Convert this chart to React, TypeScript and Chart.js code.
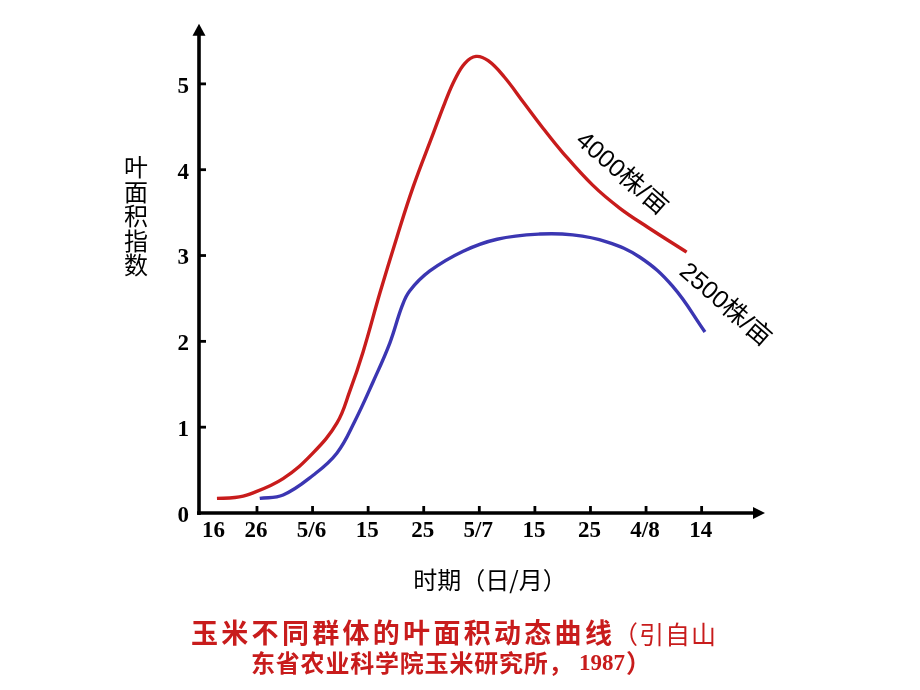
import React, { useEffect, useRef } from "react";
import { Chart, registerables } from "chart.js";

Chart.register(...registerables);

// x values: days counted from 16 May (tick every 10 days)
const xTickDays = [0, 10, 20, 30, 40, 50, 60, 70, 80, 90];
const xTickLabels = ["16", "26", "5/6", "15", "25", "5/7", "15", "25", "4/8", "14"];
const yTicks = [0, 1, 2, 3, 4, 5];

// 4000株/亩
const redDays = [2.8, 6.0, 8.7, 14.7, 20.1, 24.4, 26.7, 29.1, 32.1, 35.2, 38.1, 41.7, 43.8, 45.6, 47.4, 49.4, 51.6, 54.5, 58.0, 61.5, 65.0, 70.4, 75.3, 80.3, 87.3];
const redLAI = [0.17, 0.18, 0.22, 0.40, 0.70, 1.05, 1.42, 1.88, 2.56, 3.22, 3.80, 4.42, 4.78, 5.05, 5.24, 5.32, 5.27, 5.08, 4.78, 4.48, 4.20, 3.82, 3.55, 3.33, 3.04];

// 2500株/亩
const blueDays = [10.5, 14.7, 20.1, 24.4, 27.6, 30.9, 33.9, 36.1, 37.5, 41.1, 47.1, 53.2, 60.9, 66.8, 72.9, 78.9, 84.8, 90.6];
const blueLAI = [0.17, 0.21, 0.44, 0.70, 1.07, 1.53, 1.98, 2.41, 2.59, 2.82, 3.05, 3.19, 3.25, 3.24, 3.16, 2.98, 2.64, 2.11];

const seriesNames = ["4000株/亩", "2500株/亩"];
// label anchors in data units (day, LAI)
const labelDays = [75.6, 94.2];
const labelLAI = [3.95, 2.42];

const yTitle = "叶面积指数";
const xTitle = "时期（日/月）";
const captionA = "玉米不同群体的叶面积动态曲线";
const captionB = "（引自山";
const captionC = "东省农业科学院玉米研究所，";
const captionYear = "1987";
const captionEnd = "）";

const RED = "#c81c1c";
const BLUE = "#3b36b2";
const CJK = "'Noto Sans CJK SC', 'Noto Sans', sans-serif";

function drawRun(ctx: CanvasRenderingContext2D, text: string, x: number, y: number, adv: number) {
  const chars = Array.from(text);
  chars.forEach((c, i) => ctx.fillText(c, x + i * adv, y));
}

const decorPlugin = {
  id: "decor",
  afterDraw(chart: any) {
    const ctx: CanvasRenderingContext2D = chart.ctx;
    const xs = chart.scales.x;
    const ys = chart.scales.y;
    const ax = chart.chartArea.left;
    const ay = ys.getPixelForValue(0);
    const topY = chart.chartArea.top;
    const rightX = chart.chartArea.right;
    ctx.save();
    ctx.strokeStyle = "#000";
    ctx.fillStyle = "#000";
    ctx.lineWidth = 3.6;
    ctx.lineCap = "butt";
    // y axis
    ctx.beginPath();
    ctx.moveTo(ax, ay + 2);
    ctx.lineTo(ax, topY + 8);
    ctx.stroke();
    // x axis
    ctx.beginPath();
    ctx.moveTo(ax - 2, ay);
    ctx.lineTo(rightX - 8, ay);
    ctx.stroke();
    // arrows
    ctx.beginPath();
    ctx.moveTo(ax, topY);
    ctx.lineTo(ax - 6.5, topY + 12);
    ctx.lineTo(ax + 6.5, topY + 12);
    ctx.closePath();
    ctx.fill();
    ctx.beginPath();
    ctx.moveTo(rightX, ay);
    ctx.lineTo(rightX - 12, ay - 6);
    ctx.lineTo(rightX - 12, ay + 6);
    ctx.closePath();
    ctx.fill();
    // tick marks (inward)
    ctx.lineWidth = 2.8;
    yTicks.forEach((v) => {
      if (v === 0) return;
      const py = ys.getPixelForValue(v);
      ctx.beginPath();
      ctx.moveTo(ax, py);
      ctx.lineTo(ax + 7, py);
      ctx.stroke();
    });
    xTickDays.forEach((v, i) => {
      if (i === 0) return;
      const px = xs.getPixelForValue(v);
      ctx.beginPath();
      ctx.moveTo(px, ay);
      ctx.lineTo(px, ay - 7);
      ctx.stroke();
    });
    // x tick labels
    ctx.font = "bold 23px 'Liberation Serif', serif";
    ctx.textAlign = "center";
    ctx.textBaseline = "middle";
    xTickDays.forEach((v, i) => {
      const px = xs.getPixelForValue(v) + (i === 0 ? 12 : -1);
      ctx.fillText(xTickLabels[i], px, ay + 18);
    });
    // y title (vertical stacked)
    ctx.font = "24px " + CJK;
    Array.from(yTitle).forEach((c, i) => {
      ctx.fillText(c, 136, 167 + i * 24.5);
    });
    // x title
    ctx.font = "24px " + CJK;
    ctx.fillText(xTitle, 490, 580);
    // series labels along the curves
    ctx.font = "25px 'Liberation Sans', " + CJK;
    seriesNames.forEach((name, i) => {
      const px = xs.getPixelForValue(labelDays[i]);
      const py = ys.getPixelForValue(labelLAI[i]);
      ctx.save();
      ctx.translate(px, py);
      ctx.rotate((41 * Math.PI) / 180);
      ctx.fillText(name, 0, 0);
      ctx.restore();
    });
    // caption
    ctx.fillStyle = RED;
    ctx.textAlign = "left";
    ctx.font = "bold 27px " + CJK;
    drawRun(ctx, captionA, 191, 633, 30.3);
    ctx.font = "25px " + CJK;
    drawRun(ctx, captionB, 613, 634, 26);
    ctx.font = "bold 24px " + CJK;
    drawRun(ctx, captionC, 251, 663, 24.8);
    ctx.font = "bold 23px 'Liberation Serif', serif";
    ctx.fillText(captionYear, 579, 664);
    ctx.font = "bold 25px " + CJK;
    ctx.fillText(captionEnd, 626, 663);
    ctx.restore();
  },
};

export default function App() {
  const canvasRef = useRef<HTMLCanvasElement | null>(null);
  useEffect(() => {
    const canvas = canvasRef.current;
    if (!canvas) return;
    const chart = new Chart(canvas, {
      type: "line",
      data: {
        datasets: [
          {
            label: seriesNames[0],
            data: redDays.map((d, i) => ({ x: d, y: redLAI[i] })),
            borderColor: RED,
            borderWidth: 3.4,
            pointRadius: 0,
            tension: 0.4,
            fill: false,
          },
          {
            label: seriesNames[1],
            data: blueDays.map((d, i) => ({ x: d, y: blueLAI[i] })),
            borderColor: BLUE,
            borderWidth: 3.4,
            pointRadius: 0,
            tension: 0.4,
            fill: false,
          },
        ],
      },
      options: {
        responsive: false,
        animation: false,
        devicePixelRatio: 1,
        layout: { padding: { top: 16, right: 155, left: 0, bottom: 0 } },
        plugins: { legend: { display: false }, tooltip: { enabled: false } },
        scales: {
          x: {
            type: "linear",
            min: -0.43,
            max: 101.4,
            grid: { display: false, drawTicks: false },
            border: { display: false },
            ticks: { display: false },
            afterBuildTicks: (s: any) => {
              s.ticks = xTickDays.map((v) => ({ value: v }));
            },
            afterFit: (s: any) => {
              s.height = 177;
            },
          },
          y: {
            type: "linear",
            min: 0,
            max: 5.7,
            grid: { display: false, drawTicks: false },
            border: { display: false },
            ticks: {
              color: "#000",
              padding: 10,
              labelOffset: 3,
              font: { family: "'Liberation Serif', serif", size: 23, weight: "bold" },
            },
            afterBuildTicks: (s: any) => {
              s.ticks = yTicks.map((v) => ({ value: v }));
            },
            afterFit: (s: any) => {
              s.width = 199;
            },
          },
        },
      },
      plugins: [decorPlugin],
    } as any);
    return () => chart.destroy();
  }, []);
  return (
    <div style={{ position: "absolute", left: 0, top: 0, width: 920, height: 690, background: "#fff" }}>
      <canvas ref={canvasRef} width={920} height={690} />
    </div>
  );
}
